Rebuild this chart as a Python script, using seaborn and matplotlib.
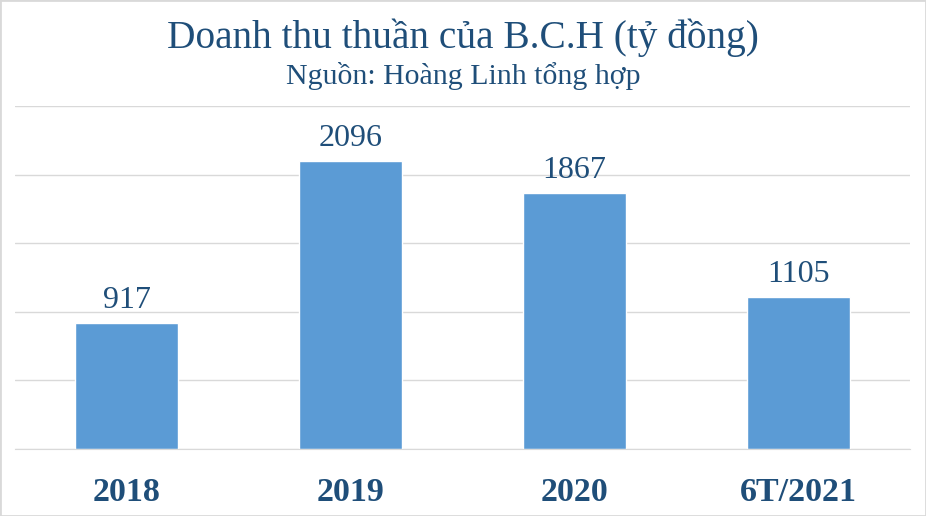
import pandas as pd
import seaborn as sns
import matplotlib.pyplot as plt
from matplotlib.patches import Rectangle

categories = ["2018", "2019", "2020", "6T/2021"]
revenue = [917, 2096, 1867, 1105]
yticks = [0, 500, 1000, 1500, 2000, 2500]

title = "Doanh thu thuần của B.C.H (tỷ đồng)"
subtitle = "Nguồn: Hoàng Linh tổng hợp"

df = pd.DataFrame({"year": categories, "value": revenue})

sns.set_style("white")
plt.rcParams['font.family'] = ['Liberation Serif', 'DejaVu Serif']

text_color = "#1F4E79"
bar_color = "#5B9BD5"

fig = plt.figure(figsize=(9.26, 5.16), dpi=100)
ax = fig.add_axes([15 / 926, 1 - 449 / 516, 895 / 926, (449 - 106) / 516])

sns.barplot(data=df, x="year", y="value", color=bar_color, saturation=1,
            width=0.46, ax=ax)

ax.set_ylim(0, 2500)
ax.set_xlim(-0.5, 3.5)
ax.set_yticks(yticks)
ax.yaxis.grid(True, color="#D9D9D9", linewidth=1)
ax.set_axisbelow(True)
ax.tick_params(axis="y", left=False, labelleft=False)
ax.tick_params(axis="x", bottom=False, pad=17)
for lbl in ax.get_xticklabels():
    lbl.set_fontsize(24.5)
    lbl.set_fontweight("bold")
    lbl.set_color(text_color)
ax.set_xlabel("")
ax.set_ylabel("")
for s in ["top", "left", "right"]:
    ax.spines[s].set_visible(False)
ax.spines["bottom"].set_color("#D9D9D9")

for c in ax.containers:
    ax.bar_label(c, labels=[str(v) for v in revenue], padding=6,
                 fontsize=23, color=text_color)

fig.text(0.5, 1 - 38 / 516, title, ha="center", va="center",
         fontsize=28.3, color=text_color)
fig.text(0.5, 1 - 76 / 516, subtitle, ha="center", va="center",
         fontsize=21.5, color=text_color)

fig.patches.append(Rectangle((0, 0), 1, 1, transform=fig.transFigure,
                             fill=False, edgecolor="#D9D9D9", linewidth=2))

fig.savefig("out.png", dpi=100)
